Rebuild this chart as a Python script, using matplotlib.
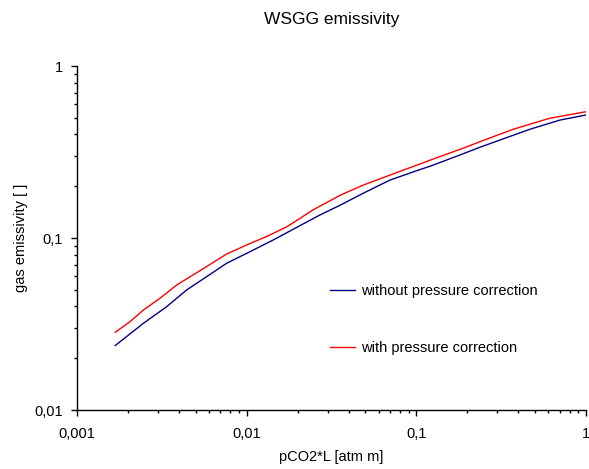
import matplotlib
matplotlib.use("Agg")
import matplotlib.pyplot as plt
from matplotlib.ticker import FixedLocator, LogLocator, NullFormatter

plt.rcParams['font.family'] = ['Liberation Sans', 'DejaVu Sans']

# pCO2*L [atm m]
x_without = [0.00168, 0.00246, 0.00338, 0.00443, 0.00581, 0.00762, 0.01045, 0.01435,
             0.0206, 0.0270, 0.0355, 0.0486, 0.0698, 0.1026, 0.120, 0.181, 0.237,
             0.468, 0.703, 1.0]
y_without = [0.0237, 0.0319, 0.0399, 0.0499, 0.0596, 0.0713, 0.0832, 0.0974,
             0.118, 0.136, 0.155, 0.182, 0.217, 0.248, 0.261, 0.304, 0.337,
             0.429, 0.485, 0.519]

x_with = [0.00168, 0.00205, 0.00246, 0.00308, 0.00387, 0.00531, 0.00762, 0.0100,
          0.0131, 0.0172, 0.0206, 0.0247, 0.0355, 0.0486, 0.0765, 0.1026, 0.120,
          0.189, 0.237, 0.373, 0.612, 1.0]
y_with = [0.0283, 0.0326, 0.0381, 0.0446, 0.0533, 0.0646, 0.0807, 0.0911,
          0.102, 0.116, 0.130, 0.146, 0.177, 0.203, 0.240, 0.267, 0.283,
          0.333, 0.363, 0.429, 0.497, 0.542]

x_ticks = [0.001, 0.01, 0.1, 1]
x_tick_labels = ["0,001", "0,01", "0,1", "1"]
y_ticks = [0.01, 0.1, 1]
y_tick_labels = ["0,01", "0,1", "1"]

fig = plt.figure(figsize=(5.89, 4.69), dpi=100)
ax = fig.add_axes([77/589, 59/469, 509/589, 344/469])

ax.plot(x_without, y_without, color='#000080', lw=1.0, label='without pressure correction')
ax.plot(x_with, y_with, color='#ff0000', lw=1.0, label='with pressure correction')

ax.set_xscale('log')
ax.set_yscale('log')
ax.set_xlim(0.001, 1)
ax.set_ylim(0.01, 1)

ax.xaxis.set_major_locator(FixedLocator(x_ticks))
ax.set_xticklabels(x_tick_labels)
ax.yaxis.set_major_locator(FixedLocator(y_ticks))
ax.set_yticklabels(y_tick_labels)
ax.xaxis.set_minor_locator(LogLocator(base=10, subs=range(2, 10)))
ax.yaxis.set_minor_locator(LogLocator(base=10, subs=range(2, 10)))
ax.xaxis.set_minor_formatter(NullFormatter())
ax.yaxis.set_minor_formatter(NullFormatter())

for s in ['top', 'right']:
    ax.spines[s].set_visible(False)
for s in ['left', 'bottom']:
    ax.spines[s].set_linewidth(1.0)
    ax.spines[s].set_color('black')

ax.tick_params(which='major', direction='out', length=4, width=1, labelsize=10.5, pad=6)
ax.tick_params(axis='x', which='major', pad=8)
ax.tick_params(which='minor', direction='out', length=2.5, width=1)

ax.set_title('WSGG emissivity', fontsize=12.5, pad=30)
ax.set_xlabel('pCO2*L [atm m]', fontsize=10.5, labelpad=7)
ax.set_ylabel('gas emissivity [ ]', fontsize=10.5, labelpad=5)

ax.legend(loc='center left', bbox_to_anchor=(0.497, 0.263), frameon=False,
          fontsize=10.5, handlelength=1.75, handletextpad=0.35, labelspacing=2.9,
          borderpad=0, borderaxespad=0)

fig.savefig('out.png', dpi=100)
